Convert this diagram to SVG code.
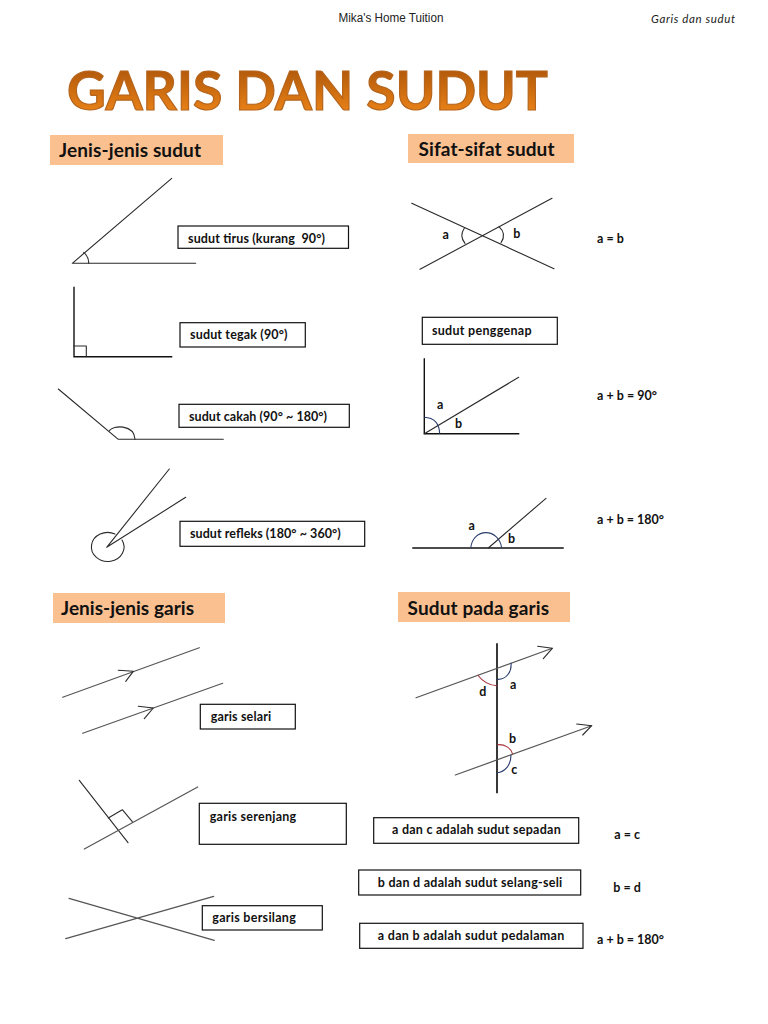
<svg xmlns="http://www.w3.org/2000/svg" width="768" height="1024" viewBox="0 0 768 1024">
<style>
.l{fill:none;stroke:#2a2a2a;stroke-width:1.1;stroke-linecap:round;stroke-linejoin:round}
.k{fill:none;stroke:#111;stroke-width:1.4}
.g{fill:none;stroke:#555;stroke-width:1.2;stroke-linecap:round;stroke-linejoin:round}
.arcb{fill:none;stroke:#2c3e6e;stroke-width:1.1}
.arcr{fill:none;stroke:#a8323a;stroke-width:1.1}
.box{fill:#fff;stroke:#111;stroke-width:1.2}
.sec{fill:#fac090}
.t{font-family:Lato,"Open Sans",sans-serif;font-size:12.5px;font-weight:700;fill:#111;white-space:pre}
.h{font-family:Lato,"Open Sans",sans-serif;font-size:19px;font-weight:700;fill:#111}
</style>
<defs>
<linearGradient id="tg" x1="0" y1="0" x2="0" y2="1">
<stop offset="0" stop-color="#a04c08"/>
<stop offset="0.55" stop-color="#d06f10"/>
<stop offset="1" stop-color="#f58a1c"/>
</linearGradient>
</defs>
<rect width="768" height="1024" fill="#fff"/>
<text x="338.5" y="22" font-family="'Liberation Sans',Arial,sans-serif" font-size="12.5" fill="#222" textLength="105" lengthAdjust="spacingAndGlyphs">Mika's Home Tuition</text>
<text x="651" y="23" font-family="Lato,'Open Sans',sans-serif" font-size="11.5" font-style="italic" fill="#222" textLength="84">Garis dan sudut</text>
<text id="title" x="67" y="109.5" font-family="Lato,'Open Sans',sans-serif" font-size="54" font-weight="700" fill="url(#tg)" stroke="#b5651d" stroke-width="1.2" textLength="481" lengthAdjust="spacingAndGlyphs">GARIS DAN SUDUT</text>

<g id="sec-jenis-sudut"><rect class="sec" x="50" y="135" width="173" height="30"/><text class="h" x="59" y="157" textLength="142">Jenis-jenis sudut</text></g>
<g id="sec-sifat-sudut"><rect class="sec" x="408" y="134" width="166" height="29"/><text class="h" x="418.5" y="156" textLength="136">Sifat-sifat sudut</text></g>
<g id="sec-jenis-garis"><rect class="sec" x="53" y="593" width="172" height="30"/><text class="h" x="61" y="615" textLength="133">Jenis-jenis garis</text></g>
<g id="sec-sudut-garis"><rect class="sec" x="398" y="592" width="172" height="30"/><text class="h" x="407.5" y="615" textLength="141.5">Sudut pada garis</text></g>

<g id="sudut-tirus">
<path class="l" d="M171.7 178.3L72.3 263.3H195.7"/>
<path class="l" d="M83.7 252.3Q89 257 88.7 263.3"/>
<rect class="box" x="178" y="226" width="170.5" height="22.3"/>
<text class="t" x="188" y="242.5" textLength="137">sudut tirus (kurang  90°)</text>
</g>
<g id="sudut-tegak">
<path class="k" d="M74 286.7V356.7H172.3"/>
<path class="l" d="M74 346H86.3V356.7"/>
<rect class="box" x="180" y="322.7" width="125.3" height="24.3"/>
<text class="t" x="190" y="339" textLength="97.5">sudut tegak (90°)</text>
</g>
<g id="sudut-cakah">
<path class="l" d="M58.3 389L118.3 439.3H223.3"/>
<path class="l" d="M109.3 430.7C113 425 134 424 135 439.3"/>
<rect class="box" x="179" y="404.3" width="170.3" height="23"/>
<text class="t" x="189" y="420.5" textLength="138">sudut cakah (90° ~ 180°)</text>
</g>
<g id="sudut-refleks">
<path class="l" d="M169.3 469L106.7 547.3L185.7 497.3"/>
<path class="l" d="M115 534A16.3 14.5 0 1 0 122 540"/>
<rect class="box" x="180" y="521.3" width="184.7" height="25"/>
<text class="t" x="190" y="538" textLength="150.7">sudut refleks (180° ~ 360°)</text>
</g>

<g id="sudut-bertentang">
<path class="l" d="M411.7 203.3L554 268.7M420 269.3L552 198.3"/>
<path class="l" d="M464.3 228.3Q459 236 465 243.3M499 226.7Q507 234 501 242.7"/>
<text class="t" x="442.5" y="239">a</text>
<text class="t" x="513.3" y="238">b</text>
<text class="t" x="597" y="243">a = b</text>
</g>
<g id="sudut-penggenap">
<rect class="box" x="422.3" y="317.3" width="135" height="27"/>
<text class="t" x="432" y="335" textLength="99.5">sudut penggenap</text>
<path class="k" d="M424.3 358.3V433.7H519.3"/>
<path class="l" d="M424.3 433.7L518.7 377.3"/>
<path class="arcb" d="M424.3 417.3Q439 418 439.7 433.7"/>
<text class="t" x="437" y="409.3">a</text>
<text class="t" x="455" y="428">b</text>
<text class="t" x="597" y="400" textLength="60">a + b = 90°</text>
</g>
<g id="sudut-penggenap-180">
<path class="k" d="M412.3 548H563.7"/>
<path class="l" d="M488.3 548L546 498.3"/>
<path class="arcb" d="M470.7 548C473 527 499 528 501.7 548"/>
<text class="t" x="468.5" y="530">a</text>
<text class="t" x="508" y="543">b</text>
<text class="t" x="597" y="524" textLength="67">a + b = 180°</text>
</g>

<g id="garis-selari">
<path class="g" d="M62.7 697.3L199.3 647.7M82.7 733.3L222.7 683.3"/>
<path class="l" d="M118.3 670.3L133.3 671.3L125.7 681.3M138.3 706.3L153.3 708L144.3 718.7"/>
<rect class="box" x="200.3" y="704.3" width="95" height="24.7"/>
<text class="t" x="210.7" y="721" textLength="60.5">garis selari</text>
</g>
<g id="garis-serenjang">
<path class="l" d="M79.3 780.3L128 842.7"/>
<path class="g" d="M84.3 849L197.7 787"/>
<path class="l" d="M108.3 818L122.3 809.7L132.3 821.7"/>
<rect class="box" x="199.3" y="803.3" width="147" height="41"/>
<text class="t" x="209.7" y="820.5" textLength="86.5">garis serenjang</text>
</g>
<g id="garis-bersilang">
<path class="g" d="M69 898.3L214.3 940.3M65.7 938.7L213.7 896.3"/>
<rect class="box" x="202.3" y="905.7" width="120" height="24.3"/>
<text class="t" x="212.3" y="922.3" textLength="83.5">garis bersilang</text>
</g>

<g id="sudut-pada-garis">
<path d="M497 643.3V793.3" fill="none" stroke="#222" stroke-width="1.8"/>
<path class="g" d="M416 697.7L552.3 648.3M455.3 775L591.7 725.7"/>
<path class="l" d="M537.7 646.3L552.3 648.3L543.3 658.7M576.7 724L591.7 725.7L582.7 735"/>
<path class="arcb" d="M511 662.7C512 672 506 680 497 679.3"/>
<path class="arcr" d="M477.7 675C483 682 489 685.5 497 685.7"/>
<path class="arcr" d="M497 744.7C505 744 511 748 512.7 754.3"/>
<path class="arcb" d="M511 755C511 765 505 772 497 772.7"/>
<text class="t" x="510" y="688.5">a</text>
<text class="t" x="479.3" y="695.5">d</text>
<text class="t" x="509" y="742.7">b</text>
<text class="t" x="511.3" y="774">c</text>
</g>
<g id="sepadan">
<rect class="box" x="373.7" y="817.7" width="205" height="25.6"/>
<text class="t" x="392" y="834.3" textLength="168.7">a dan c adalah sudut sepadan</text>
<text class="t" x="614.3" y="839">a = c</text>
</g>
<g id="selang-seli">
<rect class="box" x="358.7" y="870" width="222" height="25"/>
<text class="t" x="377.7" y="886.7" textLength="184.6">b dan d adalah sudut selang-seli</text>
<text class="t" x="613.3" y="891.7">b = d</text>
</g>
<g id="pedalaman">
<rect class="box" x="359.7" y="923.3" width="223.3" height="25"/>
<text class="t" x="377.7" y="940" textLength="186.6">a dan b adalah sudut pedalaman</text>
<text class="t" x="597" y="944" textLength="67">a + b = 180°</text>
</g>
</svg>
